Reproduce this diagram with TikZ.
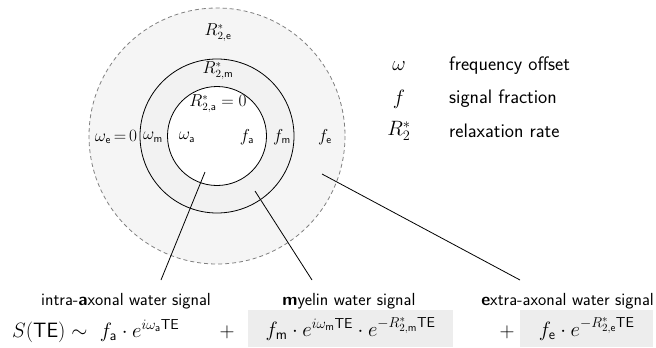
\documentclass[tikz,border=0pt]{standalone}
\usepackage{amsmath}
\begin{document}
\begin{tikzpicture}[x=1pt,y=-1pt,
  every node/.style={font=\fontsize{16}{19}\selectfont\sffamily, inner sep=1pt},
  legendtxt/.style={font=\fontsize{19.5}{23}\selectfont\sffamily},
  sigtxt/.style={font=\fontsize{17.5}{21}\selectfont\sffamily},
  eqtxt/.style={font=\fontsize{21.5}{25}\selectfont\sffamily},
  ring/.style={draw=black, line width=0.8pt},
  outerring/.style={draw=black!50, line width=0.8pt, dash pattern=on 4pt off 3pt},
  leader/.style={draw=black, line width=0.8pt},
  termbox/.style={eqtxt, fill=black!7, minimum height=37pt, inner sep=0pt}]
\useasboundingbox (0,0) rectangle (656,348);
% circles
\fill[black!4] (217,136) circle (128);
\draw[outerring] (217,136) circle (128);
\draw[ring, fill=black!5] (217,136) circle (77);
\draw[ring, fill=white] (217,136) circle (49.5);
% circle labels
\node (Re) at (218,33) {$R^*_{2,\mathsf{e}}$};
\node (Rm) at (218,71) {$R^*_{2,\mathsf{m}}$};
\node (Ra) at (218,104) {$R^*_{2,\mathsf{a}}=0$};
\node (we) at (116,137) {$\omega_\mathsf{e}\mathrel{\mkern-2mu=\mkern-2mu}0$};
\node (wm) at (153,137) {$\omega_\mathsf{m}$};
\node (wa) at (187,137) {$\omega_\mathsf{a}$};
\node (fa) at (247,137) {$f_\mathsf{a}$};
\node (fm) at (282,137) {$f_\mathsf{m}$};
\node (fe) at (325,137) {$f_\mathsf{e}$};
% legend
\node[legendtxt] (lw) at (399,66) {$\omega$};
\node[legendtxt, anchor=west] (lwt) at (448,66) {frequency offset};
\node[legendtxt] (lf) at (399,99) {$f$};
\node[legendtxt, anchor=west] (lft) at (448,99) {signal fraction};
\node[legendtxt] (lr) at (399,131) {$R_2^*$};
\node[legendtxt, anchor=west] (lrt) at (448,131) {relaxation rate};
% signal labels
\node[sigtxt] (la) at (126,301) {intra-\textbf{a}xonal water signal};
\node[sigtxt] (lm) at (349,301) {\textbf{m}yelin water signal};
\node[sigtxt, anchor=east] (le) at (655,301) {\textbf{e}xtra-axonal water signal};
% equation
\node[eqtxt, anchor=base west] (eqA) at (11,337) {$S(\mathsf{TE})\sim\ f_\mathsf{a}\cdot e^{i\omega_\mathsf{a}\mathsf{TE}}$};
\node[eqtxt, anchor=base] (plus1) at (227,337) {$+$};
\node[termbox, minimum width=205pt, anchor=north west] (eqM) at (248,310) {$f_\mathsf{m}\cdot e^{i\omega_\mathsf{m}\mathsf{TE}}\cdot e^{-R^*_{2,\mathsf{m}}\mathsf{TE}}$};
\node[eqtxt, anchor=base] (plus2) at (507,337) {$+$};
\node[termbox, minimum width=133pt, anchor=north west] (eqE) at (520,310) {$f_\mathsf{e}\cdot e^{-R^*_{2,\mathsf{e}}\mathsf{TE}}$};
% leaders
\coordinate (pa) at (205,172);
\coordinate (qa) at (161,280);
\coordinate (pm) at (255,191);
\coordinate (qm) at (312,280);
\coordinate (pe) at (322,174);
\coordinate (qe) at (520,280);
\draw[leader] (pa) -- (qa);
\draw[leader] (pm) -- (qm);
\draw[leader] (pe) -- (qe);
\end{tikzpicture}
\end{document}
